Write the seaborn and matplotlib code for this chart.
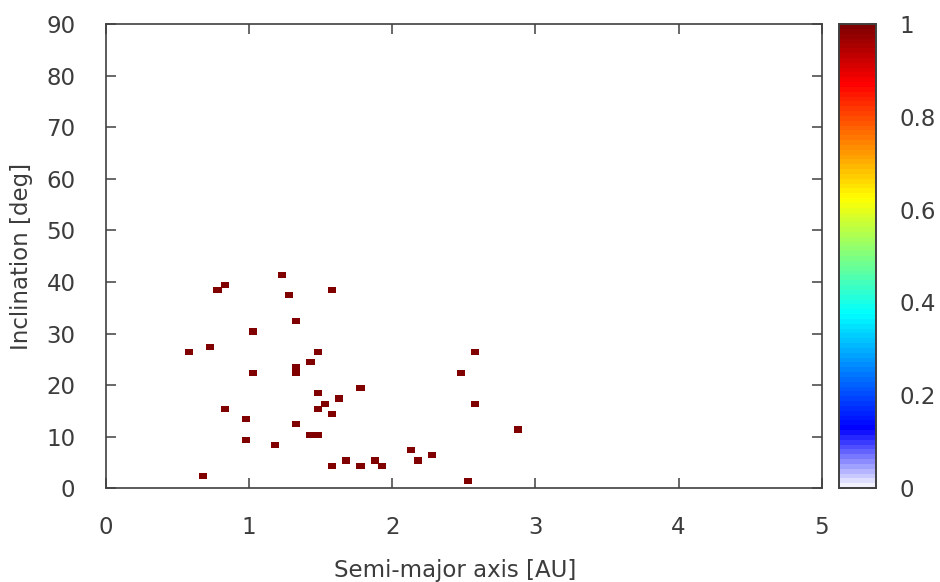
import numpy as np
import pandas as pd
import matplotlib
matplotlib.use("Agg")
import matplotlib.pyplot as plt
from matplotlib.colors import LinearSegmentedColormap
import seaborn as sns

# Binned data: lower edge of semi-major axis bin (AU, width 0.05) and inclination bin (deg, width 1)
axis_bins = [1.20, 0.80, 0.75, 1.25, 1.55, 1.30, 1.00, 0.55, 0.70, 1.45,
             1.40, 1.00, 1.30, 1.30, 1.75, 1.45, 1.60, 1.50, 0.80, 1.45,
             1.55, 0.95, 1.30, 1.40, 1.45, 0.95, 1.15, 1.65, 1.55, 1.75,
             0.65, 2.10, 2.15, 1.85, 1.90, 2.55, 2.45, 2.55, 2.85, 2.25, 2.50]
incl_bins = [41, 39, 38, 37, 38, 32, 30, 26, 27, 26,
             24, 22, 22, 23, 19, 18, 17, 16, 15, 15,
             14, 13, 12, 10, 10, 9, 8, 5, 4, 4,
             2, 7, 5, 5, 4, 26, 22, 16, 11, 6, 1]
density = [1.0] * len(axis_bins)

x_ticks = [0, 1, 2, 3, 4, 5]
y_ticks = [0, 10, 20, 30, 40, 50, 60, 70, 80, 90]
c_ticks = [0, 0.2, 0.4, 0.6, 0.8, 1]
c_labels = ["0", "0.2", "0.4", "0.6", "0.8", "1"]

a_width = 0.05
n_cols = int(round(5 / a_width))
n_rows = 90
grid = np.full((n_rows, n_cols), np.nan)
for a, inc, v in zip(axis_bins, incl_bins, density):
    grid[int(inc), int(round(a / a_width))] = v
df = pd.DataFrame(grid,
                  index=np.arange(n_rows),
                  columns=np.round(np.arange(n_cols) * a_width, 2))

sns.set_theme(style="white")
plt.rcParams['font.family'] = ['DejaVu Sans']
text_col = "#3c3c3c"
line_col = "#404040"
fs = 16.5

cmap = LinearSegmentedColormap.from_list(
    "gp_jet",
    [(0.0, "#f2f2ff"), (0.125, "#0000ff"), (0.375, "#00ffff"),
     (0.625, "#ffff00"), (0.875, "#ff0000"), (1.0, "#800000")], N=96)

W, H = 940, 582
fig = plt.figure(figsize=(W / 100, H / 100), dpi=100)
ax = fig.add_axes([106 / W, 1 - 488.3 / H, (821.7 - 106) / W, (488.3 - 24) / H])
cax = fig.add_axes([839 / W, 1 - 488 / H, 36.5 / W, (488 - 24) / H])

sns.heatmap(df, ax=ax, cmap=cmap, vmin=0, vmax=1, cbar_ax=cax,
            xticklabels=False, yticklabels=False,
            linewidths=0.7, linecolor="face")

ax.set_xlim(0, n_cols)
ax.set_ylim(0, n_rows)
ax.set_xticks([t / a_width for t in x_ticks])
ax.set_xticklabels([str(t) for t in x_ticks])
ax.set_yticks(y_ticks)
ax.set_yticklabels([str(t) for t in y_ticks])

for s in ax.spines.values():
    s.set_visible(True)
    s.set_color(line_col)
    s.set_linewidth(1.2)

ax.tick_params(axis="both", direction="in", length=7, width=1.1, color=line_col,
               labelsize=fs, labelcolor=text_col, top=True, right=True,
               bottom=True, left=True)
ax.tick_params(axis="x", pad=20)
ax.tick_params(axis="y", pad=22)

ax.set_xlabel("Semi-major axis [AU]", fontsize=fs, color=text_col, va="center")
ax.xaxis.set_label_coords((455 - 106) / (821.7 - 106), (488.3 - 570) / (488.3 - 24))
ax.set_ylabel("Inclination [deg]", fontsize=fs, color=text_col, va="center")
ax.yaxis.set_label_coords((22 - 106) / (821.7 - 106), 0.5)

cax.set_yticks(c_ticks)
cax.set_yticklabels(c_labels)
cax.tick_params(axis="y", direction="in", length=5, width=1.1, color=line_col,
                labelsize=fs, labelcolor=text_col, left=True, right=True,
                labelleft=False, labelright=True, pad=17)
for s in cax.spines.values():
    s.set_visible(True)
    s.set_color(line_col)
    s.set_linewidth(1.2)
cbar = ax.collections[0].colorbar
cbar.outline.set_edgecolor(line_col)
cbar.outline.set_linewidth(1.2)

fig.savefig("out.png", dpi=100)
